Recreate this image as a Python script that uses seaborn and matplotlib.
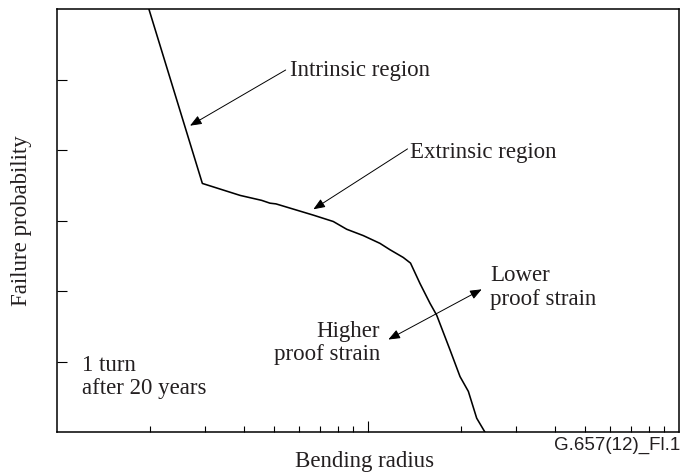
import numpy as np
import pandas as pd
import matplotlib
matplotlib.use("Agg")
import matplotlib.pyplot as plt
from matplotlib.ticker import FixedLocator, LogLocator, NullFormatter
import seaborn as sns

# ---- data (log x: bending radius, linear y: failure probability) ----
bend_radius = [1.98, 2.94, 3.89, 4.56, 4.85, 5.07, 6.69, 7.75, 8.56, 9.68, 10.95,
               11.79, 13.01, 13.73, 14.73, 15.86, 16.67, 18.39, 19.81, 21.07, 22.41, 23.84]
failure_prob = [6.0, 3.53, 3.36, 3.29, 3.25, 3.24, 3.08, 2.99, 2.88, 2.79, 2.68,
                2.59, 2.48, 2.40, 2.11, 1.83, 1.66, 1.17, 0.79, 0.58, 0.20, 0.0]
y_ticks = [1, 2, 3, 4, 5]
x_label = "Bending radius"
y_label = "Failure probability"
fig_code = "G.657(12)_Fl.1"

df = pd.DataFrame({"radius": bend_radius, "prob": failure_prob})

sns.set_theme(style="ticks")
plt.rcParams["font.family"] = ["Liberation Serif", "DejaVu Serif"]
TXT = "#231f20"
FS = 16.5
LS = 1.13

fig = plt.figure(figsize=(6.81, 4.75), dpi=100)
W, H = 681, 475
ax = fig.add_axes([56.7 / W, (H - 432.3) / H, 622 / W, 423 / H])

sns.lineplot(data=df, x="radius", y="prob", ax=ax, color="black", lw=1.15,
             estimator=None, sort=False)

ax.set_xscale("log")
ax.set_xlim(1, 100)
ax.set_ylim(0, 6)
ax.xaxis.set_major_locator(FixedLocator([10]))
ax.xaxis.set_minor_locator(LogLocator(base=10, subs=np.arange(2, 10)))
ax.xaxis.set_major_formatter(NullFormatter())
ax.xaxis.set_minor_formatter(NullFormatter())
ax.yaxis.set_major_locator(FixedLocator(y_ticks))
ax.yaxis.set_major_formatter(NullFormatter())
ax.tick_params(axis="x", which="major", direction="in", length=7.7, width=0.8, color="black")
ax.tick_params(axis="x", which="minor", direction="in", length=4.5, width=0.8, color="black")
ax.tick_params(axis="y", which="major", direction="in", length=7.2, width=0.8, color="black")
ax.tick_params(axis="y", which="minor", left=False)
for s in ax.spines.values():
    s.set_linewidth(1.1)
    s.set_color("black")
    s.set_visible(True)

ax.set_xlabel(x_label, fontsize=FS, color=TXT, va="center", ha="center")
ax.xaxis.set_label_coords(0.4955, -0.0695)
ax.set_ylabel(y_label, fontsize=FS, color=TXT, va="center", ha="center")
ax.yaxis.set_label_coords(-0.0558, 0.5)

head = "-|>,head_length=0.5,head_width=0.2"
arrow = dict(arrowstyle=head, color="black", lw=0.7, mutation_scale=14,
             shrinkA=0, shrinkB=0)

ax.annotate("", xy=(2.683, 4.349), xytext=(5.448, 5.139), arrowprops=arrow)
ax.text(5.62, 5.139, "Intrinsic region", fontsize=FS, color=TXT, ha="left", va="center")

ax.annotate("", xy=(6.686, 3.163), xytext=(13.43, 4.02), arrowprops=arrow)
ax.text(13.68, 3.97, "Extrinsic region", fontsize=FS, color=TXT, ha="left", va="center")

ax.annotate("", xy=(23.26, 2.028), xytext=(11.65, 1.316),
            arrowprops=dict(arrowstyle="<|-|>,head_length=0.5,head_width=0.2",
                            color="black", lw=0.7, mutation_scale=14,
                            shrinkA=0, shrinkB=0))
ax.text(24.73, 2.054, "Lower\nproof strain", fontsize=FS, color=TXT,
        ha="left", va="center", linespacing=LS)
ax.text(10.95, 1.267, "Higher\nproof strain", fontsize=FS, color=TXT,
        ha="right", va="center", multialignment="right", linespacing=LS)
ax.text(1.206, 0.79, "1 turn\nafter 20 years", fontsize=FS, color=TXT,
        ha="left", va="center", linespacing=LS)

fig.text(680 / W, 1 - 445 / H, fig_code, fontsize=13.5, color=TXT,
         family=["Liberation Sans", "DejaVu Sans"], ha="right", va="center")

fig.savefig("out.png", dpi=100, facecolor="white")
